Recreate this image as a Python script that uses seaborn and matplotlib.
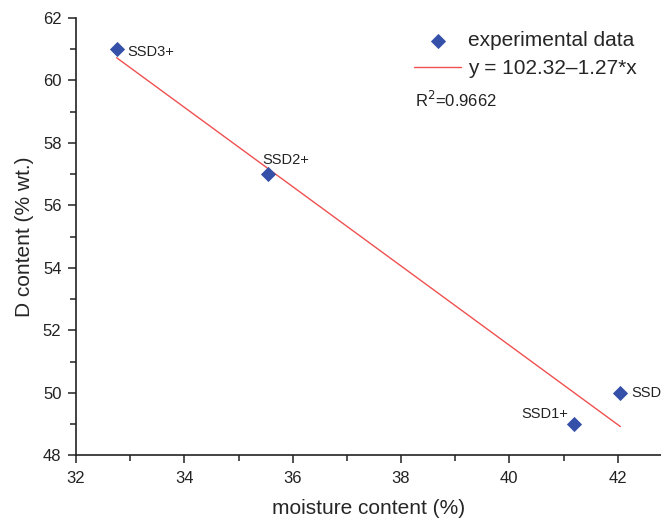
import numpy as np
import pandas as pd
import matplotlib.pyplot as plt
import seaborn as sns
from matplotlib.ticker import MultipleLocator

# data
samples = ["SSD3+", "SSD2+", "SSD1+", "SSD"]
moisture = [32.75, 35.55, 41.2, 42.05]
d_content = [61.0, 57.0, 49.0, 50.0]
fit_a, fit_b = 102.32, -1.27
r2_text = "R$^2$=0.9662"

sns.set_theme(style="ticks")
plt.rcParams["font.family"] = ["Liberation Sans", "DejaVu Sans"]

df = pd.DataFrame({"moisture": moisture, "d": d_content, "sample": samples})
fit_x = [min(moisture), max(moisture)]
fit = pd.DataFrame({"x": fit_x, "y": [fit_a + fit_b * v for v in fit_x]})

fig = plt.figure(figsize=(6.61, 5.22), dpi=100)
ax = fig.add_axes([0.115, 0.128, 0.885, 0.8375])

sns.lineplot(data=fit, x="x", y="y", ax=ax, color="#f05050", lw=1,
             label="y = 102.32\u20131.27*x", zorder=2)
sns.scatterplot(data=df, x="moisture", y="d", ax=ax, marker="D", s=60,
                color="#3550a8", edgecolor="#3550a8", linewidth=0,
                label="experimental data", zorder=3)

offsets = {"SSD3+": (8, -2), "SSD2+": (-4, 10), "SSD1+": (-38, 7), "SSD": (8, 0)}
for s, x, y in zip(samples, moisture, d_content):
    dx, dy = offsets[s]
    ax.annotate(s, (x, y), xytext=(dx, dy), textcoords="offset points",
                fontsize=10.5, va="center", ha="left", color="#222222")

ax.set_xlim(32, 42.8)
ax.set_ylim(48, 62)
ax.xaxis.set_major_locator(MultipleLocator(2))
ax.xaxis.set_minor_locator(MultipleLocator(1))
ax.yaxis.set_major_locator(MultipleLocator(2))
ax.yaxis.set_minor_locator(MultipleLocator(1))
ax.tick_params(which="major", length=6, width=1.1, labelsize=12, colors="#222222")
ax.tick_params(which="minor", length=4, width=1.1, colors="#222222")
ax.tick_params(axis="x", which="major", pad=5.5)
ax.tick_params(axis="y", which="major", pad=4.5)
for sp in ["top", "right"]:
    ax.spines[sp].set_visible(False)
for sp in ["left", "bottom"]:
    ax.spines[sp].set_color("#222222")
    ax.spines[sp].set_linewidth(1.2)

ax.set_xlabel("moisture content (%)", fontsize=15, labelpad=9)
ax.set_ylabel("D content (% wt.)", fontsize=15, labelpad=6)

handles, labels = ax.get_legend_handles_labels()
ax.legend(handles[::-1], labels[::-1], loc="upper left",
          bbox_to_anchor=(0.578, 0.97), frameon=False, fontsize=15,
          borderpad=0, borderaxespad=0,
          handlelength=2.26, handletextpad=0.34, labelspacing=0.42)
ax.text(0.58, 0.812, r2_text, transform=ax.transAxes, fontsize=12,
        va="center", color="#222222")

fig.savefig("out.png", dpi=100)
